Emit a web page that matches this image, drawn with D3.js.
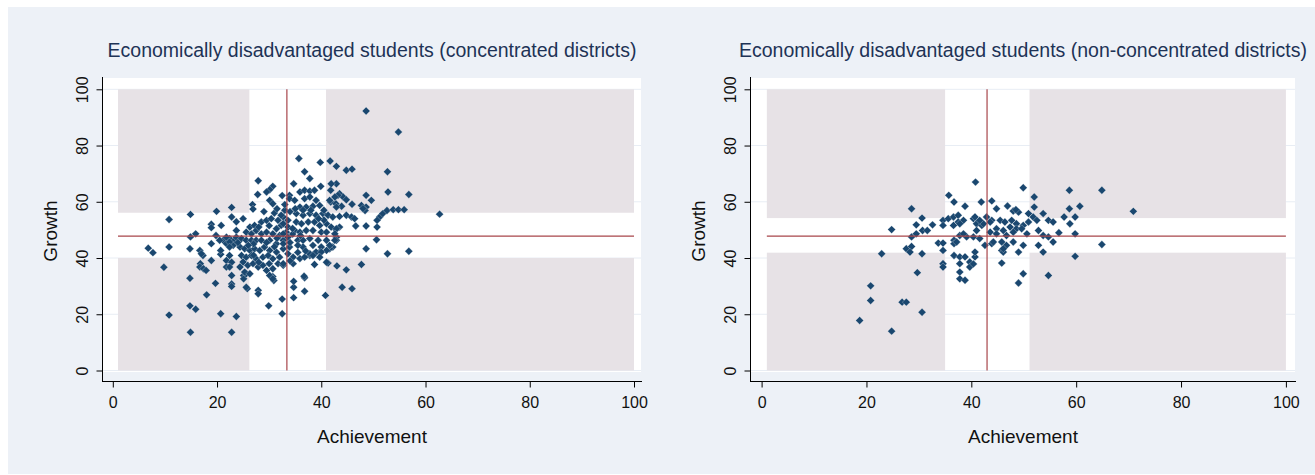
<!DOCTYPE html>
<html lang="en">
<head>
<meta charset="utf-8">
<script src="https://cdn.jsdelivr.net/npm/d3@7"></script>
<style>
body { margin: 0; background: #fff; }
text { font-family: "Liberation Sans", Arial, sans-serif; }
</style>
</head>
<body>
<div id="chart"></div>
<script>
// Achievement (x), Growth (y) per district
var concPoints = [
  [48.6,92.3],[54.8,84.8],[35.7,75.4],[39.8,74.0],[41.7,74.5],[42.9,72.6],[44.8,71.2],[45.9,71.6],[52.7,70.7],[36.8,70.7],
  [37.8,68.3],[27.9,67.5],[30.7,65.5],[30.1,64.3],[29.5,63.5],[34.7,66.4],[39.9,65.5],[42.9,66.4],[41.8,64.1],[41.9,66.4],
  [52.8,63.5],[56.8,62.6],[27.8,62.6],[32.5,62.2],[33.9,62.3],[48.6,62.3],[49.6,60.5],[19.9,56.6],[22.8,58.0],[26.8,59.0],
  [26.9,57.4],[14.9,55.5],[10.8,53.7],[22.8,54.6],[18.9,52.0],[18.9,50.8],[20.8,51.6],[23.7,52.9],[15.9,48.6],[14.9,47.5],
  [6.8,43.5],[7.7,41.9],[10.8,43.9],[14.8,43.3],[9.8,36.7],[14.8,32.8],[19.7,31.0],[18.0,26.9],[14.8,23.0],[15.9,21.8],
  [10.8,19.7],[20.7,20.2],[23.7,19.2],[14.9,13.6],[22.8,13.6],[32.5,20.2],[29.9,23.0],[32.5,25.4],[34.7,25.9],[36.8,28.2],
  [34.7,29.6],[34.7,31.7],[36.8,33.0],[30.9,32.0],[30.7,33.4],[29.5,35.6],[27.9,28.5],[27.9,27.3],[25.8,29.1],[22.8,30.8],
  [22.8,29.9],[22.8,33.8],[25.1,33.8],[25.1,32.6],[25.6,34.4],[40.8,26.7],[44.0,29.6],[45.9,29.1],[44.8,35.8],[47.7,37.7],
  [48.6,43.3],[52.7,41.5],[56.8,42.4],[50.6,46.5],[48.6,51.4],[46.6,51.4],[38.7,37.7],[41.3,38.2],[43.0,37.2],[62.7,55.6],
  [50.7,51.0],[51.2,54.6],[51.8,55.8],[52.6,56.9],[53.8,57.2],[54.8,57.2],[55.9,57.2],[50.7,53.4],[47.7,58.7],[48.6,58.1],
  [48.4,56.9],[43.5,62.9],[44.2,61.7],[44.8,60.7],[45.9,59.1],[43.9,58.4],[41.8,59.9],[42.8,59.3],[43.5,54.8],[44.8,55.2],
  [45.8,54.6],[46.4,54.0],[43.5,51.0],[42.8,50.1],[42.9,47.4],[42.9,46.3],[42.2,43.9],[41.6,43.3],[41.0,42.7],[39.7,42.1],
  [38.7,41.5],[37.8,40.9],[41.0,38.5],[36.7,33.5],[48.0,57.6],[43.2,62.3],[42.6,61.7],[41.6,60.5],[42.9,58.1],
  [30.1,60.5],[30.7,59.3],[23.7,49.8],[19.8,48.0],[18.9,45.1],[21.2,46.3],[22.4,46.9],[23.4,46.3],[21.8,45.1],[23.1,44.5],
  [16.7,42.7],[17.3,40.9],[17.0,41.5],[18.9,39.1],[20.7,41.3],[20.7,42.7],[22.4,40.9],[21.8,39.1],[22.8,38.5],[21.8,36.8],
  [16.8,38.0],[16.7,36.8],[17.4,36.2],[17.9,35.6],[22.4,36.8],[24.4,36.8],[25.3,35.0],[25.6,29.6],
  [25.0,54.0],[26.3,51.0],[27.2,51.6],[28.5,52.8],[29.5,53.4],[30.4,54.0],[31.7,53.4],[32.7,54.6],[33.6,53.4],[31.4,50.4],
  [32.3,51.6],[25.6,49.2],[26.6,48.6],[27.5,49.8],[28.5,48.6],[29.5,49.2],[30.7,48.6],[32.0,48.0],[33.3,49.2],[21.8,47.4],
  [20.5,46.3],[22.4,45.7],[23.7,47.4],[24.7,46.9],[25.6,46.3],[26.6,46.3],[27.5,46.3],[28.5,46.3],[30.1,46.3],[31.4,45.1],
  [32.7,46.3],[33.6,47.4],[22.4,43.9],[24.4,43.9],[25.3,43.3],[26.3,42.7],[27.2,43.3],[28.2,42.7],[29.1,43.9],
  [30.1,42.7],[31.4,42.1],[32.7,43.3],[33.6,41.5],[24.7,40.9],[25.6,40.3],[26.6,40.9],[27.5,39.7],[28.8,40.3],[29.8,40.9],
  [30.7,39.7],[32.0,40.3],[25.0,38.6],[25.9,37.4],[26.9,38.0],[27.9,36.8],[26.3,34.4],[28.8,37.4],[30.7,36.2],
  [31.7,38.0],[32.7,37.4],[30.1,33.8],[30.7,32.6],
  [33.9,61.1],[34.9,60.5],[33.0,57.0],[32.3,55.2],[32.7,52.2],[33.6,51.0],[32.7,48.6],[32.7,45.1],[33.9,43.9],[34.6,40.3],
  [32.7,38.0],[34.6,38.0],[35.9,63.5],[36.8,64.1],[37.8,63.8],[38.7,64.1],[36.8,61.1],[37.8,61.7],[39.0,60.5],[35.9,58.1],
  [37.1,58.1],[38.4,58.4],[39.7,58.7],[35.2,55.8],[36.5,55.2],[37.8,55.8],[39.0,55.2],[40.3,55.8],[41.3,55.2],[42.2,54.6],
  [35.2,52.8],[36.2,52.2],[37.5,52.8],[38.7,52.8],[39.7,51.6],[41.0,52.2],[41.9,51.0],[42.9,50.4],[34.9,49.8],[35.9,49.2],
  [37.1,49.8],[38.4,49.8],[40.0,49.2],[41.0,49.2],[42.6,48.6],[35.5,46.3],[36.5,46.3],[37.8,46.9],[39.4,46.3],[41.0,46.3],
  [42.6,46.3],[36.5,43.9],[38.4,44.5],[40.0,43.9],[41.6,44.5],[37.8,41.5],[39.0,42.1],[40.0,42.1],[35.9,39.8],[36.8,40.3],
  [38.4,40.9],[39.7,40.3],
  [34.0,56.5],[35.0,57.5],[31.0,56.0],[29.0,56.5],[34.5,48.5],[35.5,44.5],[31.0,44.0],[29.5,45.5],[27.0,45.0],[24.0,45.5],
  [26.0,44.5],[34.0,45.5],[31.5,47.0],[28.0,51.0],[30.0,51.5],[34.5,50.5],[36.0,48.0],[33.0,59.0],[31.5,57.5],[36.5,57.0],
  [38.0,57.0],[40.5,57.0],[40.5,53.5],[39.5,54.0],[34.0,39.0],[30.0,38.0],[28.0,38.5],[35.5,42.0],[37.0,42.5],[27.0,41.0]
];

var nonConcPoints = [
  [40.8,67.0],[35.7,62.3],[36.7,59.9],[38.8,58.4],[28.6,57.5],[30.6,54.2],[24.8,50.1],[29.5,51.8],[30.7,49.8],[31.6,49.8],
  [32.6,51.8],[28.6,47.5],[29.5,48.6],[27.6,43.3],[28.6,44.1],[28.3,42.1],[22.9,41.5],[30.6,41.5],[34.6,53.4],[35.6,54.0],
  [36.6,54.6],[37.5,55.2],[34.6,51.6],[36.6,51.6],[37.5,52.8],[38.5,53.4],[33.7,45.3],[34.6,45.3],[36.7,46.3],[36.7,45.1],
  [37.8,48.0],[39.1,47.5],[40.4,47.5],[40.4,54.0],[41.0,52.2],[36.7,40.9],[37.8,40.4],[38.8,40.4],[39.7,38.6],[39.7,36.8],
  [37.8,38.0],[37.8,35.0],[37.8,32.6],[38.8,32.1],[34.6,38.0],[34.6,36.8],[40.7,40.4],[40.7,42.1],[29.7,34.8],[20.8,30.1],
  [20.8,24.9],[26.8,24.3],[27.6,24.3],[30.6,20.7],[18.7,17.8],[24.8,14.0],
  [37.8,52.2],[40.7,54.6],[41.0,49.8],[37.2,45.7],[38.5,48.6],[34.6,42.7],[40.4,37.9],
  [58.7,64.1],[64.9,64.1],[70.9,56.6],[49.9,65.0],[52.0,61.7],[60.7,58.4],[58.7,57.5],[59.8,54.6],[57.7,54.6],[58.8,52.2],
  [59.8,48.6],[52.0,58.1],[53.7,55.8],[54.7,53.4],[55.6,52.8],[56.7,49.0],[59.8,40.6],[64.9,44.8],[54.7,33.8],[49.9,34.4],
  [49.0,31.1],[45.8,38.2],[41.9,59.9],[43.9,60.3],[44.8,57.5],[46.9,58.5],[48.0,56.7],[49.0,56.3],[42.9,54.6],[43.9,53.4],
  [45.5,53.4],[46.4,52.8],[47.7,53.4],[48.6,52.2],[49.9,51.6],[50.9,55.8],[51.8,54.6],[52.5,53.4],[50.9,52.8],[42.0,51.6],
  [43.6,49.2],[44.8,50.4],[46.1,49.8],[47.4,51.0],[48.6,50.4],[49.6,50.4],[50.6,48.6],[52.8,49.8],[53.7,48.0],[54.7,47.5],
  [55.6,45.7],[42.6,44.5],[43.9,45.1],[45.8,45.7],[46.7,44.5],[48.0,45.7],[49.9,44.5],[52.8,44.5],[53.7,42.1],[45.8,42.7],
  [46.1,42.1],[49.0,42.1],[44.2,45.7],[46.1,43.3],[43.6,52.8],[46.7,48.0],[48.0,49.2],[44.8,48.6],[42.3,52.2],[41.6,53.4],
  [41.6,46.9],[48.5,57.2]
];

// quadrant bands: [low, mean, high]
var concXBand = [26.2, 33.4, 40.9];
var concYBand = [40.0, 47.8, 56.1];
var nonConcXBand = [35.0, 43.0, 51.1];
var nonConcYBand = [41.9, 47.8, 54.2];
var shadeX = [1, 100];
var shadeY = [0, 100];

var tickValues = [0, 20, 40, 60, 80, 100];
var titles = ["Economically disadvantaged students (concentrated districts)",
              "Economically disadvantaged students (non-concentrated districts)"];
var xTitle = "Achievement";
var yTitle = "Growth";

var W = 1315, H = 475;
var svg = d3.select("#chart").append("svg")
    .attr("width", W).attr("height", H);

svg.append("rect").attr("x", 8).attr("y", 7)
    .attr("width", W - 8).attr("height", 467)
    .attr("fill", "#edf1f7");

// pixel frames of the two plots
var panels = [
  {axisX: 102.5, left: 103, right: 641, top: 78, bottom: 372, axisY: 381.5, x0: 112.8, x1: 634.0},
  {axisX: 750.5, left: 751, right: 1295, top: 78, bottom: 372, axisY: 381.5, x0: 761.6, x1: 1285.9}
];

function drawPanel(p, pts, xb, yb, title) {
  var x = d3.scaleLinear().domain([0, 100]).range([p.x0, p.x1]);
  var y = d3.scaleLinear().domain([0, 100]).range([370.5, 89.3]);
  var g = svg.append("g");

  g.append("rect")
      .attr("x", p.left).attr("y", p.top)
      .attr("width", p.right - p.left).attr("height", p.bottom - p.top)
      .attr("fill", "#ffffff");

  g.selectAll(".grid").data(tickValues).enter().append("line")
      .attr("x1", p.left).attr("x2", p.right)
      .attr("y1", function(d) { return y(d); })
      .attr("y2", function(d) { return y(d); })
      .attr("stroke", "#e8edf4").attr("stroke-width", 1);

  // four shaded quadrants outside the bands
  var xs = [[shadeX[0], xb[0]], [xb[2], shadeX[1]]];
  var ys = [[shadeY[0], yb[0]], [yb[2], shadeY[1]]];
  xs.forEach(function(xr) {
    ys.forEach(function(yr) {
      g.append("rect")
          .attr("x", x(xr[0])).attr("y", y(yr[1]))
          .attr("width", x(xr[1]) - x(xr[0]))
          .attr("height", y(yr[0]) - y(yr[1]))
          .attr("fill", "#e7e2e6");
    });
  });

  var sym = d3.symbol().type(d3.symbolSquare).size(31);
  g.selectAll(".pt").data(pts).enter().append("path")
      .attr("d", sym)
      .attr("transform", function(d) { return "translate(" + x(d[0]) + "," + y(d[1]) + ") rotate(45)"; })
      .attr("fill", "#1a476f")
      .attr("stroke", "#ffffff").attr("stroke-width", 0.5).attr("stroke-opacity", 0.5);

  // mean lines
  g.append("line")
      .attr("x1", x(xb[1])).attr("x2", x(xb[1]))
      .attr("y1", y(shadeY[0])).attr("y2", y(shadeY[1]))
      .attr("stroke", "#a8464b").attr("stroke-width", 1.2);
  g.append("line")
      .attr("x1", x(shadeX[0])).attr("x2", x(shadeX[1]))
      .attr("y1", y(yb[1])).attr("y2", y(yb[1]))
      .attr("stroke", "#a8464b").attr("stroke-width", 1.2);

  // axis lines
  g.append("line").attr("x1", p.axisX).attr("x2", p.axisX)
      .attr("y1", p.top - 1).attr("y2", p.axisY + 0.5)
      .attr("stroke", "#000").attr("stroke-width", 1);
  g.append("line").attr("x1", p.axisX - 0.5).attr("x2", p.right + 1)
      .attr("y1", p.axisY).attr("y2", p.axisY)
      .attr("stroke", "#000").attr("stroke-width", 1);

  var xa = g.append("g")
      .attr("transform", "translate(0," + p.axisY + ")")
      .call(d3.axisBottom(x).tickValues(tickValues).tickSize(6).tickPadding(9));
  xa.select(".domain").remove();
  xa.selectAll("text").attr("font-size", 16).attr("fill", "#111")
      .style("font-family", "'Liberation Sans', Arial, sans-serif");

  var ya = g.append("g")
      .attr("transform", "translate(" + p.axisX + ",0)")
      .call(d3.axisLeft(y).tickValues(tickValues).tickSize(6));
  ya.select(".domain").remove();
  ya.selectAll("text")
      .attr("x", 0).attr("dy", 0).attr("y", 0)
      .attr("text-anchor", "middle")
      .attr("transform", "translate(-15,0) rotate(-90)")
      .attr("font-size", 16).attr("fill", "#111")
      .style("font-family", "'Liberation Sans', Arial, sans-serif");

  g.append("text")
      .attr("x", (p.left + p.right) / 2).attr("y", 57)
      .attr("text-anchor", "middle")
      .attr("font-size", 19.5).attr("fill", "#1e3356")
      .text(title);

  g.append("text")
      .attr("x", (p.left + p.right) / 2).attr("y", 443)
      .attr("text-anchor", "middle")
      .attr("font-size", 19).attr("fill", "#111")
      .text(xTitle);

  g.append("text")
      .attr("transform", "translate(" + (p.axisX - 45.5) + "," + 231 + ") rotate(-90)")
      .attr("text-anchor", "middle")
      .attr("font-size", 19).attr("fill", "#111")
      .text(yTitle);
}

drawPanel(panels[0], concPoints, concXBand, concYBand, titles[0]);
drawPanel(panels[1], nonConcPoints, nonConcXBand, nonConcYBand, titles[1]);
</script>
</body>
</html>
